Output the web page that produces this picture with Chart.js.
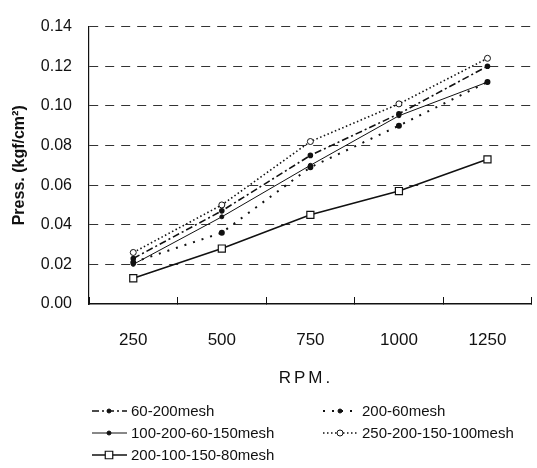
<!DOCTYPE html>
<html>
<head>
<meta charset="utf-8">
<script src="https://cdn.jsdelivr.net/npm/chart.js@4.4.1/dist/chart.umd.min.js"></script>
<style>
  html, body { margin: 0; padding: 0; background: #fff; overflow: hidden; }
  #wrap { width: 540px; height: 468px; position: relative; }
</style>
</head>
<body>
<div id="wrap"><canvas id="grafico"></canvas></div>
<script>
const rpm = ['250', '500', '750', '1000', '1250'];
const mesh60_200 = [0.023, 0.047, 0.075, 0.096, 0.120];
const mesh200_60 = [0.021, 0.036, 0.069, 0.090, 0.112];
const mesh100_200_60_150 = [0.020, 0.044, 0.070, 0.095, 0.112];
const mesh250_200_150_100 = [0.026, 0.050, 0.082, 0.101, 0.124];
const mesh200_100_150_80 = [0.013, 0.028, 0.045, 0.057, 0.073];
const yTicks = [0, 0.02, 0.04, 0.06, 0.08, 0.10, 0.12, 0.14];

const fonte = '"Liberation Sans", Arial, sans-serif';
const ink = '#111';

// where each legend entry goes (column x, row y)
const legendSlots = [[92, 411], [323, 411], [92, 433], [323, 433], [92, 455]];

function marker(ctx, ds, x, y) {
  ctx.save();
  ctx.setLineDash([]);
  ctx.lineWidth = ds.pointBorderWidth || 1;
  ctx.strokeStyle = ink;
  ctx.fillStyle = ds.pointBackgroundColor;
  const r = ds.pointRadius;
  ctx.beginPath();
  if (ds.pointStyle === 'rect') {
    ctx.rect(x - r * 0.75, y - r * 0.75, r * 1.5, r * 1.5);
  } else {
    ctx.arc(x, y, r, 0, Math.PI * 2);
  }
  ctx.fill();
  ctx.stroke();
  ctx.restore();
}

const extras = {
  id: 'extras',
  afterDraw(chart) {
    const ctx = chart.ctx;

    // x axis title with wide letters
    ctx.save();
    ctx.font = '17px ' + fonte;
    ctx.fillStyle = ink;
    ctx.textAlign = 'center';
    ctx.textBaseline = 'middle';
    ctx.letterSpacing = '3px';
    ctx.fillText('RPM.', 306, 378);
    ctx.restore();

    // legend, two columns
    chart.data.datasets.forEach((ds, i) => {
      const [x, y] = legendSlots[i];
      ctx.save();
      ctx.strokeStyle = ink;
      ctx.lineWidth = ds.borderWidth;
      ctx.setLineDash(ds.borderDash || []);
      ctx.beginPath();
      ctx.moveTo(x, y);
      ctx.lineTo(x + 35, y);
      ctx.stroke();
      ctx.restore();
      marker(ctx, ds, x + 17, y);
      ctx.save();
      ctx.font = '15px ' + fonte;
      ctx.fillStyle = ink;
      ctx.textBaseline = 'middle';
      ctx.fillText(ds.label, x + 39, y + 1);
      ctx.restore();
    });
  }
};

const grafico = new Chart(document.querySelector('#grafico'), {
  type: 'line',
  data: {
    labels: rpm,
    datasets: [{
      label: '60-200mesh',
      data: mesh60_200,
      borderColor: ink,
      borderWidth: 1.6,
      borderDash: [7, 3, 2, 3],
      pointStyle: 'circle',
      pointRadius: 2,
      pointBackgroundColor: ink,
      pointBorderColor: ink
    }, {
      label: '200-60mesh',
      data: mesh200_60,
      borderColor: ink,
      borderWidth: 2,
      borderDash: [2, 7],
      pointStyle: 'circle',
      pointRadius: 2,
      pointBackgroundColor: ink,
      pointBorderColor: ink
    }, {
      label: '100-200-60-150mesh',
      data: mesh100_200_60_150,
      borderColor: ink,
      borderWidth: 1,
      pointStyle: 'circle',
      pointRadius: 2,
      pointBackgroundColor: ink,
      pointBorderColor: ink
    }, {
      label: '250-200-150-100mesh',
      data: mesh250_200_150_100,
      borderColor: ink,
      borderWidth: 1.6,
      borderDash: [1.5, 2.5],
      pointStyle: 'circle',
      pointRadius: 3,
      pointBorderWidth: 1,
      pointBackgroundColor: '#fff',
      pointBorderColor: ink
    }, {
      label: '200-100-150-80mesh',
      data: mesh200_100_150_80,
      borderColor: ink,
      borderWidth: 1.6,
      pointStyle: 'rect',
      pointRadius: 5,
      pointBorderWidth: 1.2,
      pointBackgroundColor: '#fff',
      pointBorderColor: ink
    }]
  },
  options: {
    responsive: true,
    maintainAspectRatio: false,
    animation: false,
    devicePixelRatio: 1,
    layout: { padding: { top: 21, right: 0, bottom: 64, left: 0 } },
    plugins: {
      legend: { display: false },
      tooltip: { enabled: false }
    },
    elements: { line: { tension: 0 } },
    scales: {
      x: {
        offset: true,
        grid: {
          offset: true,
          drawOnChartArea: false,
          drawTicks: true,
          tickLength: -7,
          tickColor: ink,
          tickWidth: 1
        },
        border: { display: true, color: ink, width: 1.5 },
        ticks: {
          color: ink,
          padding: 33,
          font: { family: fonte, size: 17 }
        },
        afterFit(scale) { scale.height = 100; }
      },
      y: {
        min: 0,
        max: 0.14,
        afterBuildTicks(scale) { scale.ticks = yTicks.map(v => ({ value: v })); },
        grid: {
          drawTicks: false,
          color: c => (c.tick && c.tick.value === 0) ? 'rgba(0,0,0,0)' : '#333',
          lineWidth: 1
        },
        border: { display: true, color: ink, width: 1.2, dash: [9, 7] },
        ticks: {
          color: ink,
          padding: 17,
          font: { family: fonte, size: 16 },
          callback: v => v.toFixed(2)
        },
        title: {
          display: true,
          text: 'Press. (kgf/cm²)',
          color: ink,
          padding: { top: 10, bottom: 0 },
          font: { family: fonte, size: 16, weight: 'bold' }
        },
        afterFit(scale) { scale.width = 89; }
      }
    }
  },
  plugins: [extras]
});
</script>
</body>
</html>
